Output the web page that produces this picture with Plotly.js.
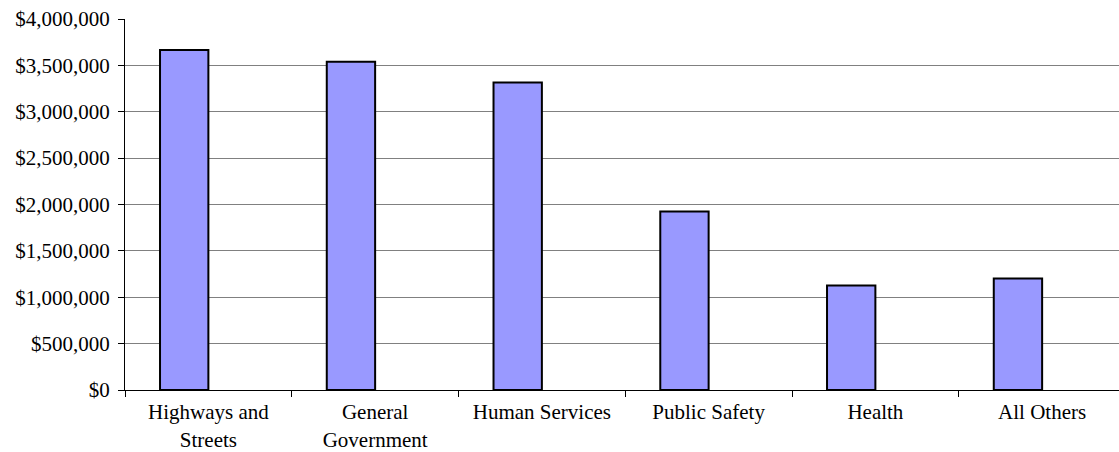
<!DOCTYPE html>
<html>
<head>
<meta charset="utf-8">
<script src="https://cdn.plot.ly/plotly-3.0.1.min.js"></script>
<style>html,body{margin:0;padding:0;background:#fff;}#chart{width:1119px;height:452px;}</style>
</head>
<body>
<div id="chart"></div>
<script>
const categories = ["Highways and<br>Streets", "General<br>Government", "Human Services", "Public Safety", "Health", "All Others"];
const expenditures = [3665000, 3540000, 3315000, 1925000, 1127000, 1202000];
const yTickValues = [0, 500000, 1000000, 1500000, 2000000, 2500000, 3000000, 3500000, 4000000];

const trace = {
  type: "bar",
  x: categories,
  y: expenditures,
  width: 0.29,
  offset: -0.29,
  marker: {color: "#9999FF", line: {color: "#000000", width: 2}},
  hoverinfo: "x+y"
};

const fontFam = "Liberation Serif, Times New Roman, serif";

const layout = {
  width: 1119,
  height: 452,
  margin: {l: 125, r: 0, t: 19, b: 62, pad: 0},
  paper_bgcolor: "#ffffff",
  plot_bgcolor: "#ffffff",
  showlegend: false,
  font: {family: fontFam, size: 21, color: "#000000"},
  xaxis: {
    type: "category",
    range: [-0.5, 5.461],
    showline: true, linecolor: "#000000", linewidth: 1,
    ticks: "outside", ticklen: 6, tickcolor: "#000000", tickson: "boundaries",
    ticklabelstandoff: 3,
    showgrid: false, zeroline: false,
    tickfont: {family: fontFam, size: 21, color: "#000000"},
    fixedrange: true
  },
  yaxis: {
    range: [0, 4000000],
    tickmode: "array",
    tickvals: yTickValues,
    ticktext: yTickValues.map(v => "$" + v.toLocaleString("en-US")),
    showline: true, linecolor: "#000000", linewidth: 1,
    ticks: "outside", ticklen: 6, tickcolor: "#000000",
    ticklabelstandoff: 4,
    showgrid: true, gridcolor: "#808080", gridwidth: 1,
    zeroline: false,
    tickfont: {family: fontFam, size: 21, color: "#000000"},
    fixedrange: true
  }
};

Plotly.newPlot("chart", [trace], layout, {displayModeBar: false, staticPlot: true});
</script>
</body>
</html>
